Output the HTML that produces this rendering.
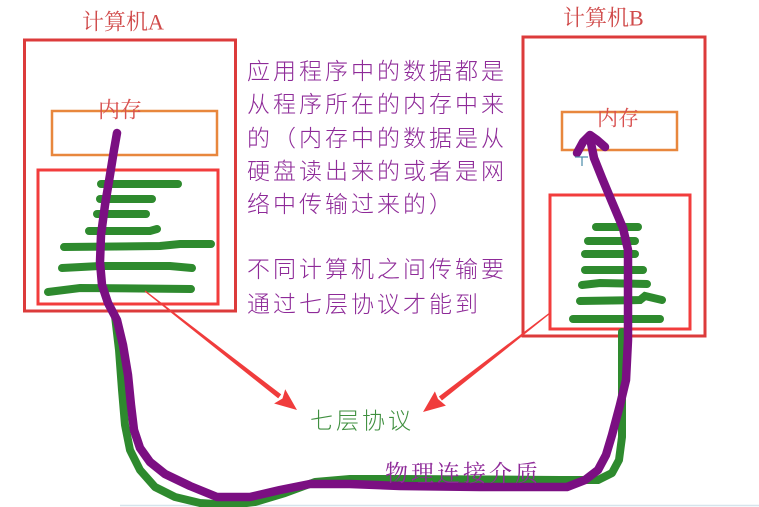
<!DOCTYPE html>
<html>
<head>
<meta charset="utf-8">
<style>
html,body{margin:0;padding:0;background:#fff;}
body{width:759px;height:507px;overflow:hidden;position:relative;}
svg{position:absolute;left:0;top:0;}
text{font-family:"Liberation Sans","Noto Sans CJK SC",sans-serif;}
.serif{font-family:"Liberation Serif","Noto Serif CJK SC",serif;}
</style>
</head>
<body>
<svg width="759" height="507" viewBox="0 0 759 507" xmlns="http://www.w3.org/2000/svg">
  <rect x="0" y="0" width="759" height="507" fill="#ffffff"/>
  <!-- faint bottom line -->
  <line x1="120" y1="505.5" x2="759" y2="505.5" stroke="#d6e4ec" stroke-width="1.5"/>

  <!-- Computer A boxes -->
  <rect x="24.5" y="40" width="211" height="271" fill="none" stroke="#dc3b3b" stroke-width="3"/>
  <rect x="52" y="111" width="165" height="44" fill="none" stroke="#e8873d" stroke-width="2.5"/>
  <rect x="38" y="170" width="180" height="134" fill="none" stroke="#f23c3c" stroke-width="3"/>

  <!-- Computer B boxes -->
  <rect x="523" y="37" width="182" height="299" fill="none" stroke="#dc3b3b" stroke-width="3"/>
  <rect x="562" y="112" width="115" height="38" fill="none" stroke="#e8873d" stroke-width="2.5"/>
  <rect x="550" y="195" width="140" height="134" fill="none" stroke="#f23c3c" stroke-width="3"/>

  <!-- green strokes A -->
  <g stroke="#2e8a2e" stroke-width="8" stroke-linecap="round" fill="none">
    <line x1="101" y1="184" x2="178" y2="184"/>
    <line x1="100" y1="199" x2="152" y2="199"/>
    <line x1="97" y1="214" x2="146" y2="214"/>
    <polyline points="89,231 150,231 157,229"/>
    <polyline points="64,247 160,246 180,244 211,244"/>
    <polyline points="62,268 100,266 170,266 192,268"/>
    <polyline points="48,292 80,288 191,289"/>
  </g>
  <!-- green strokes B -->
  <g stroke="#2e8a2e" stroke-width="8" stroke-linecap="round" fill="none">
    <line x1="596" y1="227" x2="638" y2="227"/>
    <line x1="588" y1="241" x2="635" y2="241"/>
    <line x1="585" y1="254" x2="635" y2="254"/>
    <line x1="585" y1="270" x2="643" y2="270"/>
    <polyline points="582,285 600,283 647,284"/>
    <polyline points="580,301 640,300 645,296 662,300"/>
    <line x1="573" y1="319" x2="660" y2="319"/>
  </g>

  <!-- green cable -->
  <polyline fill="none" stroke="#2e8a2e" stroke-width="8" stroke-linecap="round" stroke-linejoin="round"
    points="115,316 119,350 122,390 125,425 130,450 140,470 155,487 175,497 200,503 230,505 255,502 285,493 315,482 350,479 400,479 560,480 598,480 612,473 619,460 622,437 622,400 622,332"/>

  <!-- purple path -->
  <polyline fill="none" stroke="#7b0f82" stroke-width="8.5" stroke-linecap="round" stroke-linejoin="round"
    points="117,133 114,150 110,175 105,205 101,235 100,262 102,285 108,303 117,320 123,345 128,375 131,405 134,430 140,448 150,462 165,474 190,486 217,497 250,497 280,490 310,484 350,484 400,486 480,487 567,487 585,480 598,470 606,455 612,435 620,405 626,380 628,340 628,300 628,250 623,228 612,202 602,178 594,158 590,138"/>
  <polyline fill="none" stroke="#7b0f82" stroke-width="8.5" stroke-linecap="round" stroke-linejoin="round"
    points="577,153 583,142 590,135 597,140 605,147"/>

  <!-- small cursor mark -->
  <g stroke="#4a8aa8" stroke-width="1.2">
    <line x1="575" y1="157" x2="588" y2="157"/>
    <line x1="582" y1="157" x2="582" y2="166"/>
  </g>

  <!-- red arrows -->
  <g fill="#f03c3c">
    <polygon points="144.6,291.5 145.4,290.5 281.2,394.4 278.2,398.4"/>
    <polygon points="297,410 274.1,403.5 282.5,398.5 285.2,389.3"/>
    <polygon points="549.6,312.5 550.4,313.5 441.9,400.5 438.9,396.5"/>
    <polygon points="423,412 434.9,391.4 438,399 445.9,405.6"/>
  </g>

  <!-- labels -->
  <text class="serif" x="82" y="29.5" font-size="22" fill="#d04a4a">计算机A</text>
  <text class="serif" x="563" y="25.5" font-size="22" fill="#d04a4a">计算机B</text>
  <text class="serif" x="98" y="117.5" font-size="22" fill="#d8504f">内存</text>
  <text class="serif" x="597" y="125.5" font-size="21" fill="#d8504f">内存</text>

  <g font-size="23" fill="#8e2a98" letter-spacing="3" font-weight="300">
    <text x="247" y="79">应用程序中的数据都是</text>
    <text x="247" y="112">从程序所在的内存中来</text>
    <text x="247" y="146">的（内存中的数据是从</text>
    <text x="247" y="179">硬盘读出来的或者是网</text>
    <text x="247" y="212">络中传输过来的）</text>
    <text x="247" y="277">不同计算机之间传输要</text>
    <text x="247" y="312">通过七层协议才能到</text>
  </g>

  <text x="310" y="428.7" font-size="23" fill="#3f8f3f" letter-spacing="3" font-weight="300">七层协议</text>
  <text class="serif" x="385" y="481" font-size="23" fill="#8e2a98" letter-spacing="3">物理连接介质</text>
</svg>
</body>
</html>
